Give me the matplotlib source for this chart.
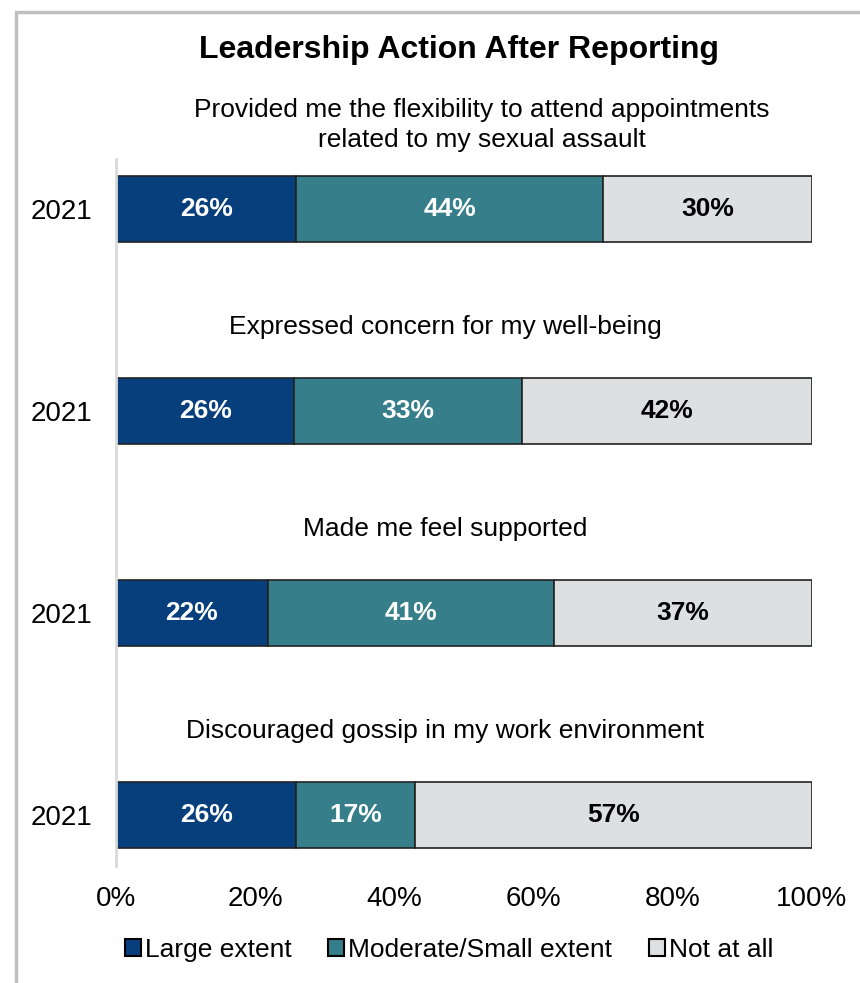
"""Stacked horizontal bars: leadership action after reporting."""

import matplotlib.pyplot as plt
import numpy as np
from matplotlib.patches import Patch, Rectangle
from matplotlib.ticker import FuncFormatter

plt.rcParams["font.family"] = ["Liberation Sans", "DejaVu Sans"]

questions = [
    "Provided me the flexibility to attend appointments\nrelated to my sexual assault",
    "Expressed concern for my well-being",
    "Made me feel supported",
    "Discouraged gossip in my work environment",
]
years = ["2021", "2021", "2021", "2021"]
series_names = ["Large extent", "Moderate/Small extent", "Not at all"]
large = [25.9, 25.6, 21.8, 25.9]
moderate = [44.1, 32.8, 41.2, 17.1]
not_at_all = [30.0, 41.6, 37.0, 57.0]

colors = ["#063f7c", "#357e8a", "#dedfe1"]
label_colors = ["white", "white", "black"]
edge = "#222222"

fig = plt.figure(figsize=(8.6, 9.83), dpi=100)
ax = fig.add_axes([116 / 860, 117 / 983, 696 / 860, 707 / 983])

y = np.arange(len(questions))
left = np.zeros(len(questions))
for vals, name, c, lc in zip([large, moderate, not_at_all], series_names, colors, label_colors):
    bars = ax.barh(y, vals, left=left, height=0.327, color=c, edgecolor=edge,
                   linewidth=1.2, label=name)
    ax.bar_label(bars, labels=[f"{v:.0f}%" for v in vals], label_type="center",
                 color=lc, fontsize=19, fontweight="bold")
    left += np.array(vals)

ax.set_xlim(0, 100)
ax.set_ylim(3.2525, -0.2475)
ax.set_xticks(np.arange(0, 101, 20))
ax.xaxis.set_major_formatter(FuncFormatter(lambda v, _: f"{v:.0f}%"))
ax.set_yticks(y)
ax.set_yticklabels(years)
ax.tick_params(axis="both", length=0, labelsize=20)
ax.tick_params(axis="x", pad=14.5)
ax.tick_params(axis="y", pad=17)
for s in ["top", "right", "bottom"]:
    ax.spines[s].set_visible(False)
ax.spines["left"].set_color("#d9d9d9")
ax.spines["left"].set_linewidth(2)

# question headings above each bar
for i, q in enumerate(questions):
    xc = 52.6 if "\n" in q else 47.3
    ax.text(xc, y[i] - 0.415, q, ha="center", va="center", fontsize=19,
            linespacing=1.3)

fig.text(459 / 860, 1 - 50 / 983, "Leadership Action After Reporting",
         ha="center", va="center", fontsize=23, fontweight="bold")

handles = [Patch(facecolor=c, edgecolor="black", linewidth=1.5) for c in colors]
fig.legend(handles, series_names, loc="center", ncol=3,
           bbox_to_anchor=(449 / 860, 1 - 950 / 983), frameon=False,
           fontsize=19, handlelength=0.6, handleheight=0.6,
           handletextpad=0.15, columnspacing=1.4)

# outer frame (right and bottom edges fall outside the image)
fig.add_artist(Rectangle((16 / 860, -0.2), 1.5, 1.2 - 12 / 983,
                         transform=fig.transFigure, fill=False,
                         edgecolor="#c0c0c0", linewidth=2.5, clip_on=False))

fig.savefig("out.png", dpi=100)
